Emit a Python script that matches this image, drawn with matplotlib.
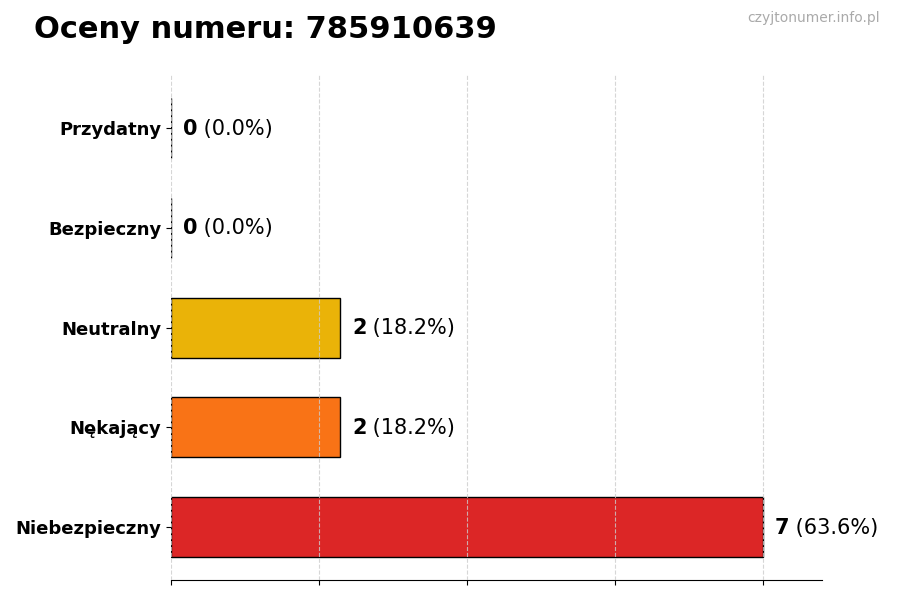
import matplotlib.pyplot as plt
import numpy as np

categories = ['Niebezpieczny', 'Nękający', 'Neutralny', 'Bezpieczny', 'Przydatny']
counts = [7, 2, 2, 0, 0]
colors = ['#dc2626', '#f97316', '#eab308', '#22c55e', '#3b82f6']
number = '785910639'

total = sum(counts)
fig = plt.figure(figsize=(9, 6), dpi=100)
ax = fig.add_axes([0.19, 0.033, 0.723, 0.842])

y = np.arange(len(categories))
ax.barh(y, counts, height=0.6, color=colors, edgecolor='black', linewidth=1)

mx = max(counts)
ax.set_xlim(0, mx * 1.1)
ax.set_xticks(np.linspace(0, mx, 5))
ax.set_xticklabels([])
ax.set_yticks(y)
ax.set_yticklabels(categories, fontsize=13, fontweight='bold')
ax.grid(axis='x', linestyle='--', color='#cccccc', linewidth=0.8, alpha=0.8)
ax.set_axisbelow(False)
for s in ['top', 'right', 'left']:
    ax.spines[s].set_visible(False)

for i, c in enumerate(counts):
    pct = c / total * 100
    t = ax.annotate(str(c), (c, i), xytext=(8.6, -0.5), textcoords='offset points',
                    va='center', ha='left', fontsize=15, fontweight='bold')
    ax.annotate(f' ({pct:.1f}%)', xycoords=t, xy=(1, 0.5), va='center', ha='left', fontsize=15)

fig.text(0.038, 0.95, f'Oceny numeru: {number}', fontsize=22, fontweight='bold', va='center')
fig.text(0.978, 0.97, 'czyjtonumer.info.pl', fontsize=10, color='#aaaaaa', ha='right', va='center')

fig.savefig('out.png')
